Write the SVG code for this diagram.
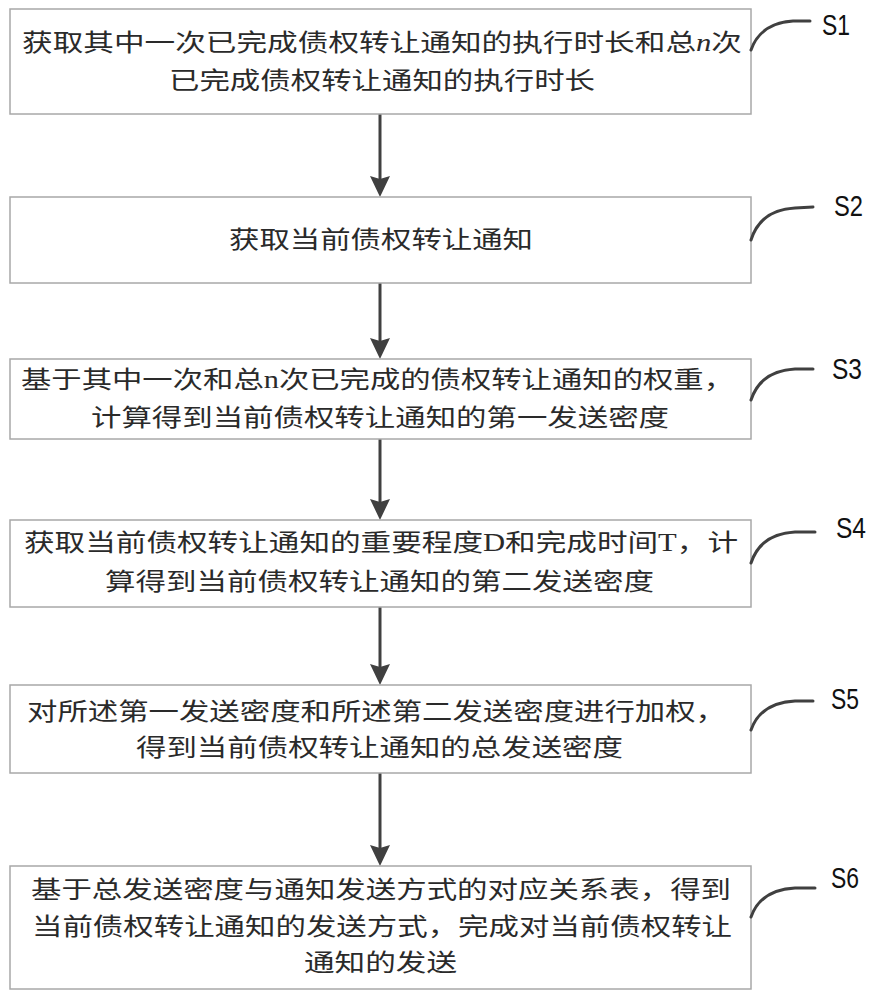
<svg xmlns="http://www.w3.org/2000/svg" width="872" height="1000" viewBox="0 0 872 1000">
<style>
.box{fill:#ffffff;stroke:#a8a8a8;stroke-width:1.5}
.t{font-family:"Liberation Serif","Noto Sans CJK SC",serif;font-size:24.3px;fill:#2a2a2a}
.lbl{font-family:"Liberation Sans","Noto Sans",sans-serif;font-size:29px;fill:#111}
.cur{fill:none;stroke:#404040;stroke-width:3;stroke-linecap:round}
.edge{stroke:#404040;stroke-width:3;fill:none}
.head{fill:#404040}
</style>
<rect width="872" height="1000" fill="#ffffff"/>

<g id="connectors">
<line class="edge" x1="380" y1="114" x2="380" y2="180"/>
<path class="head" d="M370,176 L380,179 L390,176 L380,197 Z"/>
<line class="edge" x1="380" y1="283" x2="380" y2="342"/>
<path class="head" d="M370,338 L380,341 L390,338 L380,359 Z"/>
<line class="edge" x1="380" y1="439" x2="380" y2="503"/>
<path class="head" d="M370,499 L380,502 L390,499 L380,520 Z"/>
<line class="edge" x1="380" y1="607" x2="380" y2="668"/>
<path class="head" d="M370,664 L380,667 L390,664 L380,685 Z"/>
<line class="edge" x1="380" y1="773" x2="380" y2="849"/>
<path class="head" d="M370,845 L380,848 L390,845 L380,866 Z"/>
</g>

<g id="S1">
<rect class="box" x="10" y="9" width="741" height="105"/>
<text class="t" x="22" y="51" textLength="720" lengthAdjust="spacingAndGlyphs">获取其中一次已完成债权转让通知的执行时长和总<tspan font-style="italic">n</tspan>次</text>
<text class="t" x="169" y="89" textLength="426" lengthAdjust="spacingAndGlyphs">已完成债权转让通知的执行时长</text>
<path class="cur" d="M751,50 C758,30 775,22 793,21 L810,21"/>
<text class="lbl" x="822" y="35" textLength="28" lengthAdjust="spacingAndGlyphs">S1</text>
</g>

<g id="S2">
<rect class="box" x="10" y="197" width="741" height="86"/>
<text class="t" x="229" y="248" textLength="304" lengthAdjust="spacingAndGlyphs">获取当前债权转让通知</text>
<path class="cur" d="M751,240 C758,218 775,209 795,208 L813,207"/>
<text class="lbl" x="834" y="216" textLength="29" lengthAdjust="spacingAndGlyphs">S2</text>
</g>

<g id="S3">
<rect class="box" x="10" y="359" width="741" height="80"/>
<text class="t" x="21" y="388" textLength="713" lengthAdjust="spacingAndGlyphs">基于其中一次和总n次已完成的债权转让通知的权重，</text>
<text class="t" x="91" y="426" textLength="578" lengthAdjust="spacingAndGlyphs">计算得到当前债权转让通知的第一发送密度</text>
<path class="cur" d="M751,400 C758,379 775,370 795,369 L813,369"/>
<text class="lbl" x="832" y="379" textLength="30" lengthAdjust="spacingAndGlyphs">S3</text>
</g>

<g id="S4">
<rect class="box" x="10" y="520" width="741" height="87"/>
<text class="t" x="24" y="551" textLength="714" lengthAdjust="spacingAndGlyphs">获取当前债权转让通知的重要程度D和完成时间T，计</text>
<text class="t" x="105" y="590" textLength="549" lengthAdjust="spacingAndGlyphs">算得到当前债权转让通知的第二发送密度</text>
<path class="cur" d="M751,563 C758,542 775,533 795,532 L815,532"/>
<text class="lbl" x="836" y="538" textLength="30" lengthAdjust="spacingAndGlyphs">S4</text>
</g>

<g id="S5">
<rect class="box" x="10" y="685" width="741" height="88"/>
<text class="t" x="27" y="720" textLength="699" lengthAdjust="spacingAndGlyphs">对所述第一发送密度和所述第二发送密度进行加权，</text>
<text class="t" x="136" y="756" textLength="487" lengthAdjust="spacingAndGlyphs">得到当前债权转让通知的总发送密度</text>
<path class="cur" d="M751,730 C758,710 775,702 795,701 L813,701"/>
<text class="lbl" x="831" y="709" textLength="28" lengthAdjust="spacingAndGlyphs">S5</text>
</g>

<g id="S6">
<rect class="box" x="10" y="866" width="741" height="123"/>
<text class="t" x="31" y="898" textLength="700" lengthAdjust="spacingAndGlyphs">基于总发送密度与通知发送方式的对应关系表，得到</text>
<text class="t" x="32" y="935" textLength="700" lengthAdjust="spacingAndGlyphs">当前债权转让通知的发送方式，完成对当前债权转让</text>
<text class="t" x="304" y="971" textLength="153" lengthAdjust="spacingAndGlyphs">通知的发送</text>
<path class="cur" d="M751,917 C758,897 775,889 795,888 L815,888"/>
<text class="lbl" x="831" y="888" textLength="28" lengthAdjust="spacingAndGlyphs">S6</text>
</g>
</svg>
